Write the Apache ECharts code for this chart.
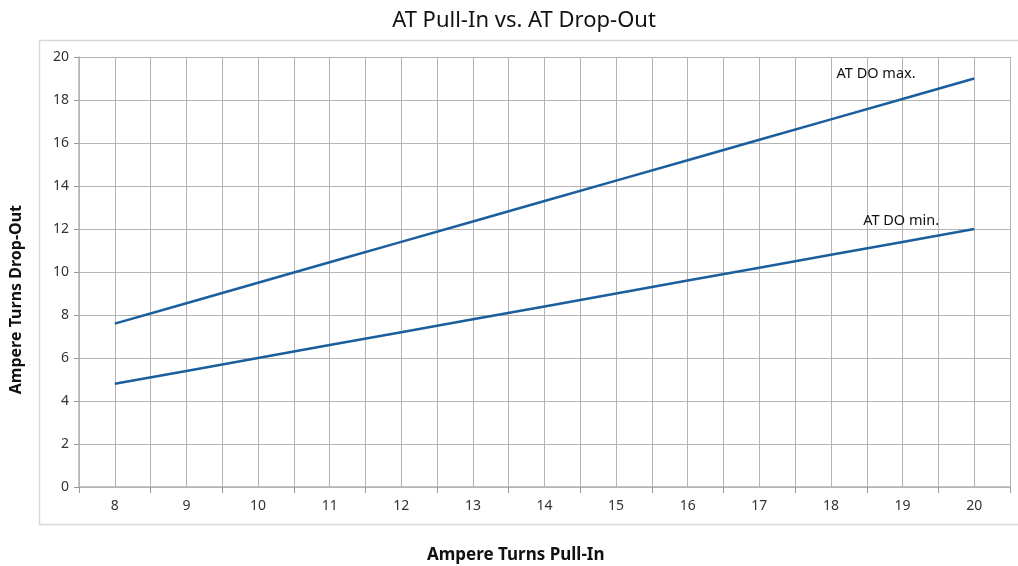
<!DOCTYPE html>
<html>
<head>
<meta charset="utf-8">
<script src="https://cdn.jsdelivr.net/npm/echarts@6/dist/echarts.min.js"></script>
<style>
  html, body { margin: 0; padding: 0; background: #fff; }
  #chart { width: 1018px; height: 566px; }
</style>
</head>
<body>
<div id="chart"></div>
<script>
// 横轴：安匝吸合值
var pullIn = [8, 9, 10, 11, 12, 13, 14, 15, 16, 17, 18, 19, 20];
// 释放值上限 / 下限
var doMax = [7.6, 8.55, 9.5, 10.45, 11.4, 12.35, 13.3, 14.25, 15.2, 16.15, 17.1, 18.05, 19];
var doMin = [4.8, 5.4, 6.0, 6.6, 7.2, 7.8, 8.4, 9.0, 9.6, 10.2, 10.8, 11.4, 12];
var yTicks = [0, 2, 4, 6, 8, 10, 12, 14, 16, 18, 20];
var seriesNames = ['AT DO max.', 'AT DO min.'];

var lineColor = '#1a5e9e';
var gridColor = '#b4b4b4';
var font = 'Noto Sans';

var chart = echarts.init(document.getElementById('chart'));

function pairs(ys) {
	var out = [];
	for (var i = 0; i < pullIn.length; i++) {
		out.push([pullIn[i], ys[i]]);
	}
	return out;
}

// 线尾标签
function endLabel(name, x, y) {
	return {
		symbol: 'circle',
		symbolSize: 0,
		label: { show: true, position: 'inside', formatter: '{b}', fontFamily: font, fontSize: 14.5, color: '#111' },
		data: [{ name: name, coord: [x, y] }]
	};
}

var option = {
	animation: false,
	title: {
		text: 'AT Pull-In vs. AT Drop-Out',
		left: 519,
		textAlign: 'center',
		top: 5,
		textStyle: { fontFamily: font, fontSize: 22, fontWeight: 'normal', color: '#111' }
	},
	// 外框
	graphic: [{
		type: 'rect',
		shape: { x: 39.5, y: 40.5, width: 990, height: 484 },
		style: { fill: 'none', stroke: '#d9d9d9', lineWidth: 1.5 },
		silent: true,
		z: -1
	}, {
		type: 'text',
		left: 427,
		top: 547,
		style: { text: 'Ampere Turns Pull-In', fontFamily: font, fontSize: 17, fontWeight: 'bold', fill: '#111' }
	}, {
		type: 'text',
		left: 8,
		top: 205,
		rotation: Math.PI / 2,
		originX: 0,
		originY: 0,
		style: { text: 'Ampere Turns Drop-Out', fontFamily: font, fontSize: 16, fontWeight: 'bold', fill: '#111' }
	}],
	grid: { left: 79, right: 8, top: 57, bottom: 79 },
	xAxis: [{
		// 数值轴：画线和整数网格
		type: 'value',
		min: 7.5,
		max: 20.5,
		interval: 0.5,
		axisLine: { show: false },
		axisTick: { show: false },
		splitLine: { show: true, lineStyle: { color: gridColor, width: 1 } },
		axisLabel: {
			margin: 12,
			fontFamily: font,
			fontSize: 14,
			color: '#333',
			formatter: function (v) { return v % 1 === 0 ? String(v) : ''; }
		}
	}, {
		// 类目轴：只画刻度和轴线
		type: 'category',
		position: 'bottom',
		data: pullIn,
		boundaryGap: true,
		axisLine: { show: true, lineStyle: { color: gridColor, width: 1.5 } },
		axisTick: { show: true, length: 6, lineStyle: { color: '#999' } },
		axisLabel: { show: false },
		splitLine: { show: false }
	}],
	yAxis: {
		type: 'value',
		min: yTicks[0],
		max: yTicks[yTicks.length - 1],
		interval: 2,
		axisLine: { show: true, lineStyle: { color: gridColor, width: 1.5 } },
		axisTick: { show: true, length: 5, lineStyle: { color: '#999' } },
		splitLine: { show: true, lineStyle: { color: gridColor, width: 1 } },
		axisLabel: { margin: 10, fontFamily: font, fontSize: 14, color: '#333' }
	},
	series: [{
		name: seriesNames[0],
		type: 'line',
		xAxisIndex: 0,
		data: pairs(doMax),
		showSymbol: false,
		lineStyle: { color: lineColor, width: 2.5 },
		markPoint: endLabel(seriesNames[0], 18.63, 19.2)
	}, {
		name: seriesNames[1],
		type: 'line',
		xAxisIndex: 0,
		data: pairs(doMin),
		showSymbol: false,
		lineStyle: { color: lineColor, width: 2.5 },
		markPoint: endLabel(seriesNames[1], 18.98, 12.37)
	}]
};

chart.setOption(option);
</script>
</body>
</html>
